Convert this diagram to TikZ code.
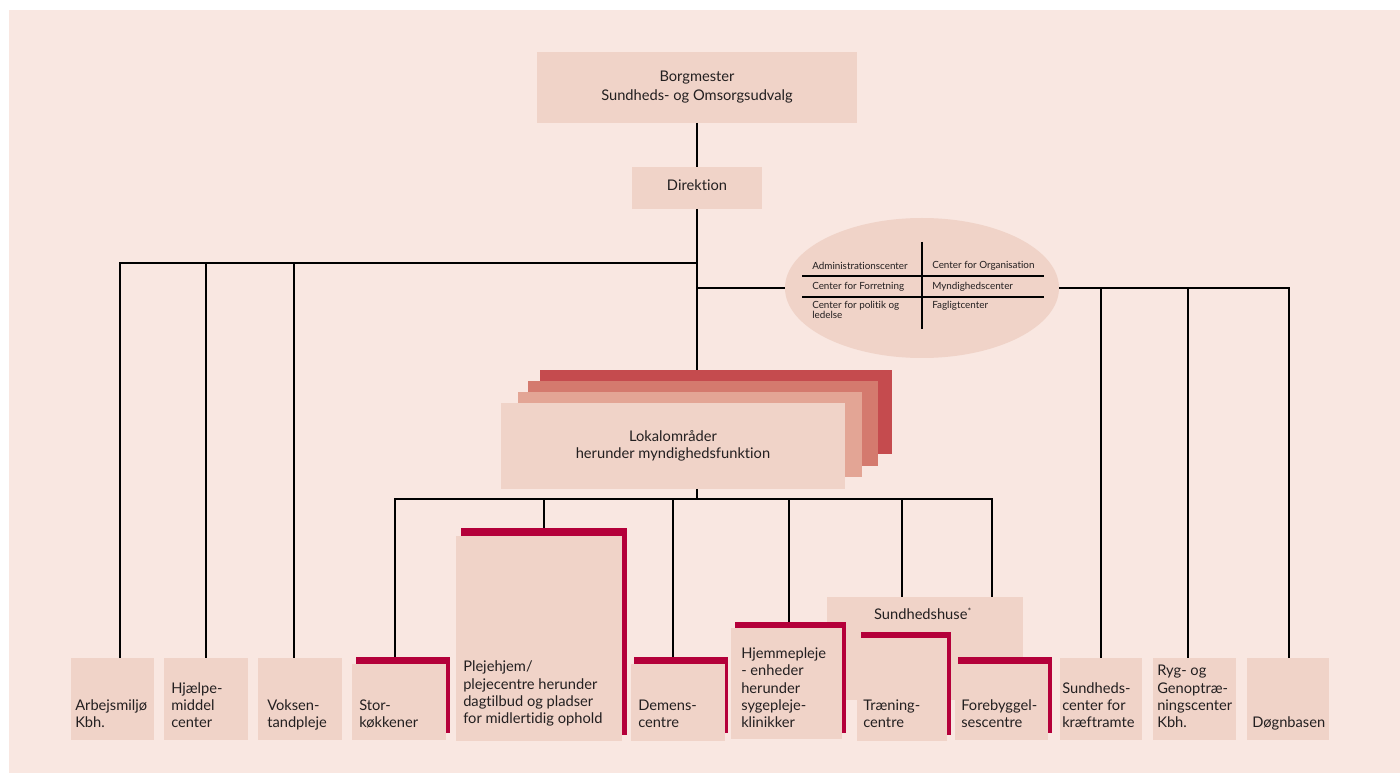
\documentclass[tikz,border=0pt]{standalone}
\usepackage{fontspec}
\setmainfont{Lato}[Ligatures={NoCommon}]
\usetikzlibrary{shapes.geometric,calc}
\definecolor{bgc}{HTML}{F9E7E1}
\definecolor{boxc}{HTML}{F0D3C8}
\definecolor{redc}{HTML}{B4003A}
\definecolor{stA}{HTML}{C54B4E}
\definecolor{stB}{HTML}{D47A6E}
\definecolor{stC}{HTML}{E3A595}
\definecolor{txt}{HTML}{231F20}
\newcommand\mkbox[6]{\node[rectbox, fill=#6, minimum width={(#4-#2)*0.75pt}, minimum height={(#5-#3)*0.75pt}] (#1) at ({(#2+#4)/2},{(#3+#5)/2}) {};}
\begin{document}
\begin{tikzpicture}[x=0.75pt,y=-0.75pt,
  rectbox/.style={shape=rectangle, draw=none, inner sep=0pt, outer sep=0pt},
  ln/.style={draw=black, line width=1.7pt, line join=miter},
  thinln/.style={draw=black, line width=0.9pt},
  lbl/.style={anchor=south west, inner sep=0pt, align=left, text depth=0pt, text=txt, font=\fontsize{11}{13}\selectfont},
  ctr/.style={inner sep=0pt, align=center, text=txt},
  ell/.style={anchor=west, inner sep=0pt, align=left, text=txt, font=\fontsize{7.4}{7.8}\selectfont}
]
\useasboundingbox (0,0) rectangle (1400,773);
\fill[white] (0,0) rectangle (1400,773);
\fill[bgc] (9,10) rectangle (1400,773);

% top boxes
\mkbox{borg}{537}{52}{857}{123}{boxc}
\mkbox{dir}{632}{167}{762}{209}{boxc}
\node[ctr, font=\fontsize{11}{14.3}\selectfont] (borgt) at (borg.center) {Borgmester\\Sundheds- og Omsorgsudvalg};
\node[ctr, font=\fontsize{11}{13}\selectfont] (dirt) at (697,185) {Direktion};

% stack
\mkbox{lokA}{540}{370}{892}{454}{stA}
\mkbox{lokB}{528}{381}{878}{466}{stB}
\mkbox{lokC}{518}{392}{862}{477}{stC}
\mkbox{lok}{501}{403}{845}{489}{boxc}
\node[ctr, font=\fontsize{11}{12.3}\selectfont] (lokt) at (673,446) {Lokalområder\\herunder myndighedsfunktion};

% ellipse
\node[ellipse, fill=boxc, inner sep=0pt, minimum width={274*0.75pt}, minimum height={140*0.75pt}] (elp) at (922,288) {};
\draw[thinln] ($(elp.center)+(0,-46)$) -- ($(elp.center)+(0,41)$);
\draw[thinln] ($(elp.center)+(-120,-12)$) -- ($(elp.center)+(122,-12)$);
\draw[thinln] ($(elp.center)+(-120,9)$) -- ($(elp.center)+(122,9)$);
\node[ell] (e1) at (812,266) {Administrationscenter};
\node[ell] (e2) at (812,287) {Center for Forretning};
\node[ell, anchor=north west] (e3) at (812,301) {Center for politik og\\ledelse};
\node[ell] (e4) at (932,266) {Center for Organisation};
\node[ell] (e5) at (932,287) {Myndighedscenter};
\node[ell] (e6) at (932,306) {Fagligtcenter};

% plain bottom boxes
\mkbox{arb}{71}{658}{154}{740}{boxc}
\mkbox{hjae}{164}{658}{248}{740}{boxc}
\mkbox{voks}{258}{658}{342}{740}{boxc}
\mkbox{sfk}{1060}{658}{1142}{740}{boxc}
\mkbox{ryg}{1153}{658}{1236}{740}{boxc}
\mkbox{dogn}{1247}{658}{1329}{740}{boxc}

% red-backed boxes
\mkbox{storR}{356}{657}{450}{733}{redc}
\mkbox{stor}{352}{664}{446}{740}{boxc}
\mkbox{plejR}{461}{528}{627}{735}{redc}
\mkbox{plej}{456}{536}{622}{741}{boxc}
\mkbox{demR}{634}{657}{728}{733}{redc}
\mkbox{dem}{631}{664}{725}{741}{boxc}
\mkbox{sundh}{827}{597}{1023}{700}{boxc}
\node[ctr, font=\fontsize{11}{13}\selectfont] (sundht) at (923,614) {Sundhedshuse\textsuperscript{\fontsize{6.5}{7}\selectfont *}};
\mkbox{hjemR}{735}{622}{846}{733}{redc}
\mkbox{hjem}{731}{628}{842}{739}{boxc}
\mkbox{traenR}{861}{632}{951}{735}{redc}
\mkbox{traen}{857}{638}{947}{741}{boxc}
\mkbox{forR}{958}{657}{1052}{733}{redc}
\mkbox{forb}{955}{664}{1048}{740}{boxc}

% labels
\node[lbl] (arbt) at (75,728) {Arbejsmiljø\\Kbh.};
\node[lbl] (hjaet) at (171,728) {Hjælpe-\\middel\\center};
\node[lbl] (vokst) at (267,728) {Voksen-\\tandpleje};
\node[lbl] (stort) at (359,728) {Stor-\\køkkener};
\node[lbl] (plejt) at (463,724) {Plejehjem/\\plejecentre herunder\\dagtilbud og pladser\\for midlertidig ophold};
\node[lbl] (demt) at (638,728) {Demens-\\centre};
\node[lbl] (hjemt) at (741,728) {Hjemmepleje\\- enheder\\herunder\\sygepleje-\\klinikker};
\node[lbl] (traent) at (863,728) {Træning-\\centre};
\node[lbl] (fort) at (961,728) {Forebyggel-\\sescentre};
\node[lbl] (sfkt) at (1062,728) {Sundheds-\\center for\\kræftramte};
\node[lbl] (rygt) at (1157,728) {Ryg- og\\Genoptræ-\\ningscenter\\Kbh.};
\node[lbl] (dognt) at (1252,728) {Døgnbasen};

% bus coordinates
\coordinate (tL) at (697,263);
\coordinate (tR) at (697,288);
\coordinate (tB) at (697,499);
\coordinate (la) at (120,263);
\coordinate (lb) at (206,263);
\coordinate (lc) at (294,263);
\coordinate (ra) at (1101,288);
\coordinate (rb) at (1188,288);
\coordinate (rc) at (1289,288);
\coordinate (ba) at (395,499);
\coordinate (bb) at (544,499);
\coordinate (bc) at (673,499);
\coordinate (bd) at (789,499);
\coordinate (be) at (902,499);
\coordinate (bf) at (992,499);

% connectors
\draw[ln] (borg.south) -- (dir.north);
\draw[ln] (dir.south) -- (dir.south |- lokA.north);
\draw[ln] (lok.south -| tB) -- (tB);
\draw[ln] (la |- arb.north) -- (la) -- (tL);
\draw[ln] (lb) -- (lb |- hjae.north);
\draw[ln] (lc) -- (lc |- voks.north);
\draw[ln] (tR) -- (elp.west);
\draw[ln] (elp.east) -- (rc) -- (rc |- dogn.north);
\draw[ln] (ra) -- (ra |- sfk.north);
\draw[ln] (rb) -- (rb |- ryg.north);
\draw[ln] (ba |- storR.north) -- (ba) -- (bf) -- (bf |- sundh.north);
\draw[ln] (bb) -- (bb |- plejR.north);
\draw[ln] (bc) -- (bc |- demR.north);
\draw[ln] (bd) -- (bd |- hjemR.north);
\draw[ln] (be) -- (be |- sundh.north);
\end{tikzpicture}
\end{document}
